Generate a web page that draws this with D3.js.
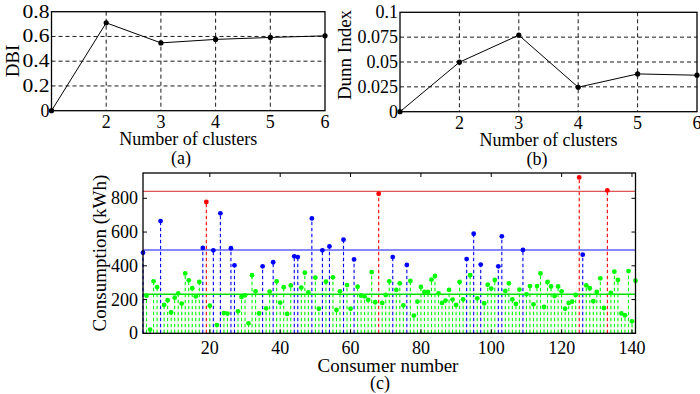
<!DOCTYPE html>
<html>
<head>
<meta charset="utf-8">
<script src="https://cdn.jsdelivr.net/npm/d3@7"></script>
<style>
  body { margin: 0; background: #fff; }
  svg { display: block; font-family: "Liberation Serif", "Times New Roman", serif; }
</style>
</head>
<body>
<svg id="chart" width="700" height="394"></svg>
<script>
// cluster validity indices
var clusterCounts = [1, 2, 3, 4, 5, 6];
var dbiValues = [0, 0.71, 0.548, 0.576, 0.592, 0.605];
var dunnValues = [0, 0.0498, 0.077, 0.0246, 0.038, 0.0367];
var dbiTicks = [0, 0.2, 0.4, 0.6, 0.8];
var dunnTicks = [0, 0.025, 0.05, 0.075, 0.1];
var clusterTicks = [2, 3, 4, 5, 6];

// monthly consumption per consumer (kWh), consumer 1..141
var consumption = [
  478, 223, 22, 308, 274, 665, 168, 196, 124, 211,
  237, 176, 355, 314, 267, 219, 304, 506, 778, 164,
  492, 49, 711, 120, 117, 504, 403, 130, 215, 225,
  59, 344, 249, 118, 397, 148, 247, 421, 308, 182,
  273, 115, 284, 456, 452, 271, 359, 243, 681, 330,
  146, 492, 306, 515, 332, 138, 249, 555, 286, 146,
  438, 276, 223, 219, 198, 363, 184, 827, 180, 227,
  308, 452, 257, 296, 166, 405, 310, 105, 188, 275,
  245, 245, 318, 340, 237, 180, 194, 257, 200, 168,
  304, 201, 440, 344, 590, 207, 407, 178, 288, 265,
  316, 397, 575, 251, 296, 201, 174, 259, 494, 231,
  280, 172, 280, 355, 156, 304, 278, 221, 278, 249,
  146, 180, 188, 227, 924, 466, 284, 267, 190, 245,
  326, 150, 847, 239, 365, 316, 118, 107, 369, 71, 312
];
// consumers assigned to the high and medium clusters, the rest are low
var highConsumers = [19, 68, 125, 133];
var mediumConsumers = [1, 6, 18, 21, 23, 26, 27, 35, 38, 44, 45, 49, 52, 54, 58, 61,
  72, 76, 93, 95, 97, 102, 103, 109, 126];
var clusterNames = ["low", "medium", "high"];
var clusterCentres = [231, 494, 841];
var consumerTicks = [20, 40, 60, 80, 100, 120, 140];
var consumptionTicks = [0, 200, 400, 600, 800];

var svg = d3.select("#chart");
var clusterColor = {low: "#00ff00", medium: "#0000ff", high: "#ff0000"};
var centreColor = {low: "#00e000", medium: "#1010ff", high: "#e05555"};

// small line plot with dashed grid (panels a and b)
function linePanel(opts) {
  var x = d3.scaleLinear().domain([1, 6]).range([opts.left, opts.right]);
  var y = d3.scaleLinear().domain(opts.yDomain).range([opts.bottom, opts.top]);
  var g = svg.append("g");

  // grid
  g.selectAll(".vgrid").data(clusterTicks.slice(0, 4)).enter().append("line")
    .attr("x1", function (d) { return x(d); }).attr("x2", function (d) { return x(d); })
    .attr("y1", opts.top).attr("y2", opts.bottom)
    .attr("stroke", "#000").attr("stroke-width", 0.9).attr("stroke-dasharray", "4,3");
  g.selectAll(".hgrid").data(opts.yTicks.slice(1, opts.yTicks.length - 1)).enter().append("line")
    .attr("y1", function (d) { return y(d); }).attr("y2", function (d) { return y(d); })
    .attr("x1", opts.left).attr("x2", opts.right)
    .attr("stroke", "#000").attr("stroke-width", 0.9).attr("stroke-dasharray", "4,3");

  g.append("rect")
    .attr("x", opts.left).attr("y", opts.top)
    .attr("width", opts.right - opts.left).attr("height", opts.bottom - opts.top)
    .attr("fill", "none").attr("stroke", "#000").attr("stroke-width", 1.3);

  var line = d3.line()
    .x(function (d, i) { return x(clusterCounts[i]); })
    .y(function (d) { return y(d); });
  g.append("path").datum(opts.values)
    .attr("d", line).attr("fill", "none").attr("stroke", "#000").attr("stroke-width", 1);
  g.selectAll("circle").data(opts.values).enter().append("circle")
    .attr("cx", function (d, i) { return x(clusterCounts[i]); })
    .attr("cy", function (d) { return y(d); })
    .attr("r", 2.6).attr("fill", "#000");

  // tick labels
  g.selectAll(".xt").data(clusterTicks).enter().append("text")
    .attr("x", function (d) { return x(d); }).attr("y", opts.bottom + 17)
    .attr("text-anchor", "middle").attr("font-size", 18).text(function (d) { return d; });
  var yt = g.selectAll(".yt").data(opts.yTicks).enter().append("text")
    .attr("x", opts.left - 2).attr("y", function (d) { return y(d) + 6; })
    .attr("text-anchor", "end").attr("font-size", 18).text(function (d) { return d; });
  if (opts.wideTicks) {
    // the DBI labels are drawn a little wider in the original figure
    yt.filter(function (d) { return d != 0; })
      .attr("font-size", 19)
      .attr("textLength", opts.wideTicks).attr("lengthAdjust", "spacingAndGlyphs");
  }

  g.append("text").attr("x", (opts.left + opts.right) / 2).attr("y", opts.bottom + 34)
    .attr("text-anchor", "middle").attr("font-size", 18).text("Number of clusters");
  g.append("text").attr("x", opts.captionX).attr("y", opts.bottom + 53)
    .attr("text-anchor", "middle").attr("font-size", 18).text(opts.caption);
  g.append("text")
    .attr("transform", "translate(" + opts.yLabelX + "," + opts.yLabelY + ") rotate(-90)")
    .attr("text-anchor", "middle").attr("font-size", 19).text(opts.yLabel);
}

linePanel({left: 51.5, right: 325, top: 11.7, bottom: 110.7, yDomain: [0, 0.8],
  yTicks: dbiTicks, values: dbiValues, yLabel: "DBI", yLabelX: 19, yLabelY: 61,
  caption: "(a)", captionX: 181, wideTicks: 27});
linePanel({left: 400, right: 697, top: 12.3, bottom: 111.7, yDomain: [0, 0.1],
  yTicks: dunnTicks, values: dunnValues, yLabel: "Dunn Index", yLabelX: 351, yLabelY: 55,
  caption: "(b)", captionX: 537});

// stem plot of consumption (panel c)
var cLeft = 143, cRight = 635.5, cTop = 173, cBottom = 333.3;
var xc = d3.scaleLinear().domain([1, 141]).range([cLeft, cRight]);
var yc = d3.scaleLinear().domain([0, 950]).range([cBottom, cTop]);

var consumers = consumption.map(function (v, i) {
  var n = i + 1;
  var c = highConsumers.indexOf(n) >= 0 ? "high" : (mediumConsumers.indexOf(n) >= 0 ? "medium" : "low");
  return {n: n, value: v, cluster: c};
});

var gc = svg.append("g");
gc.selectAll(".stem").data(consumers).enter().append("line")
  .attr("x1", function (d) { return xc(d.n); }).attr("x2", function (d) { return xc(d.n); })
  .attr("y1", yc(0)).attr("y2", function (d) { return yc(d.value); })
  .attr("stroke", function (d) { return clusterColor[d.cluster]; })
  .attr("stroke-width", 1.1).attr("stroke-dasharray", "3.5,2.5");

gc.selectAll(".centre").data(clusterCentres).enter().append("line")
  .attr("x1", cLeft).attr("x2", cRight)
  .attr("y1", function (d) { return yc(d); }).attr("y2", function (d) { return yc(d); })
  .attr("stroke", function (d, i) { return centreColor[clusterNames[i]]; })
  .attr("stroke-width", function (d, i) { return i == 0 ? 1.4 : 1.1; });

gc.selectAll(".dot").data(consumers).enter().append("circle")
  .attr("cx", function (d) { return xc(d.n); }).attr("cy", function (d) { return yc(d.value); })
  .attr("r", 2.4).attr("fill", function (d) { return clusterColor[d.cluster]; });

// frame and ticks
gc.append("rect").attr("x", cLeft).attr("y", cTop)
  .attr("width", cRight - cLeft).attr("height", cBottom - cTop)
  .attr("fill", "none").attr("stroke", "#000").attr("stroke-width", 1.3);
gc.selectAll(".xtb").data(consumerTicks).enter().append("path")
  .attr("d", function (d) {
    return "M" + xc(d) + "," + cBottom + "v-4M" + xc(d) + "," + cTop + "v4";
  }).attr("stroke", "#000").attr("stroke-width", 1);
gc.selectAll(".ytb").data(consumptionTicks).enter().append("path")
  .attr("d", function (d) {
    return "M" + cLeft + "," + yc(d) + "h4M" + cRight + "," + yc(d) + "h-4";
  }).attr("stroke", "#000").attr("stroke-width", 1);

gc.selectAll(".xtl").data(consumerTicks).enter().append("text")
  .attr("x", function (d) { return xc(d); }).attr("y", cBottom + 21)
  .attr("text-anchor", "middle").attr("font-size", 18).text(function (d) { return d; });
gc.selectAll(".ytl").data(consumptionTicks).enter().append("text")
  .attr("x", cLeft - 5).attr("y", function (d) { return yc(d) + 6; })
  .attr("text-anchor", "end").attr("font-size", 18).text(function (d) { return d; });

gc.append("text").attr("x", 388).attr("y", 372)
  .attr("text-anchor", "middle").attr("font-size", 19).text("Consumer number");
gc.append("text").attr("x", 380).attr("y", 389)
  .attr("text-anchor", "middle").attr("font-size", 18).text("(c)");
gc.append("text").attr("transform", "translate(106,253) rotate(-90)")
  .attr("text-anchor", "middle").attr("font-size", 19).text("Consumption (kWh)");
</script>
</body>
</html>
